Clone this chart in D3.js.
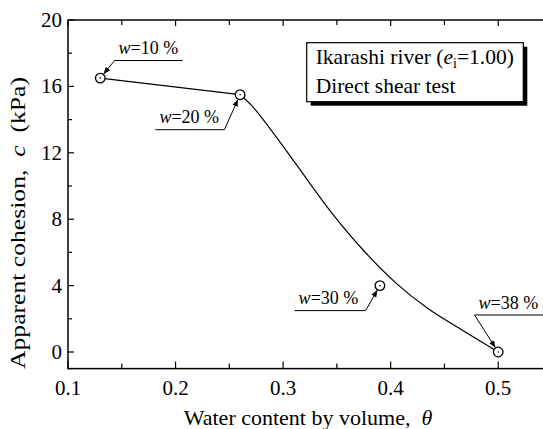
<!DOCTYPE html>
<html>
<head>
<meta charset="utf-8">
<script src="https://cdn.jsdelivr.net/npm/d3@7"></script>
<style>
  html, body { margin: 0; padding: 0; background: #fff; }
  svg text { font-family: "Liberation Serif", "Times New Roman", serif; fill: #000; white-space: pre; }
</style>
</head>
<body>
<svg id="chart" width="543" height="429"></svg>
<script>
// ---- data ----
const thetaPoints = [0.13, 0.26, 0.39, 0.50];
const cohesion    = [16.5, 15.5, 4.0, 0.0];
const wLabels     = ["10", "20", "30", "38"];

// fitted curve: straight part, then smooth decay
const fitThetaA = [0.13, 0.26];
const fitCA     = [16.5, 15.5];
const fitThetaB = [0.26, 0.270, 0.285, 0.310, 0.345, 0.375, 0.405, 0.435, 0.467, 0.500];
const fitCB     = [15.5, 14.9, 13.7, 11.5, 8.4, 6.1, 4.15, 2.6, 1.3, 0.0];

const xTicks = [0.1, 0.2, 0.3, 0.4, 0.5];
const xMinor = [0.15, 0.25, 0.35, 0.45, 0.55];
const yTicks = [0, 4, 8, 12, 16, 20];
const yMinor = [-1, 2, 6, 10, 14, 18];

const legendLine1 = "Ikarashi river (";
const legendLine2 = "Direct shear test";

// ---- layout ----
const svg = d3.select("#chart");
const x = d3.scaleLinear().domain([0.1, 0.55]).range([68, 552]);
const y = d3.scaleLinear().domain([-1, 20]).range([368.6, 20]);

const g = svg.append("g");

// frame
g.append("rect")
  .attr("x", x(0.1)).attr("y", y(20))
  .attr("width", x(0.55) - x(0.1)).attr("height", y(-1) - y(20))
  .attr("fill", "none").attr("stroke", "#000").attr("stroke-width", 1.5);

// ticks (inward)
const tickG = g.append("g").attr("stroke", "#000").attr("stroke-width", 1.2);
xTicks.forEach(v => {
  tickG.append("line").attr("x1", x(v)).attr("x2", x(v)).attr("y1", y(-1)).attr("y2", y(-1) - 7);
  tickG.append("line").attr("x1", x(v)).attr("x2", x(v)).attr("y1", y(20)).attr("y2", y(20) + 6);
});
xMinor.forEach(v => {
  tickG.append("line").attr("x1", x(v)).attr("x2", x(v)).attr("y1", y(-1)).attr("y2", y(-1) - 5);
  tickG.append("line").attr("x1", x(v)).attr("x2", x(v)).attr("y1", y(20)).attr("y2", y(20) + 5);
});
yTicks.forEach(v => {
  tickG.append("line").attr("x1", x(0.1)).attr("x2", x(0.1) + 6).attr("y1", y(v)).attr("y2", y(v));
});
yMinor.forEach(v => {
  tickG.append("line").attr("x1", x(0.1)).attr("x2", x(0.1) + 4).attr("y1", y(v)).attr("y2", y(v));
});

// tick labels
g.selectAll(".xl").data(xTicks).enter().append("text")
  .attr("x", d => x(d)).attr("y", y(-1) + 26)
  .attr("text-anchor", "middle").attr("font-size", 21)
  .text(d => d3.format(".1f")(d));
g.selectAll(".yl").data(yTicks).enter().append("text")
  .attr("x", x(0.1) - 6).attr("y", d => y(d) + 7)
  .attr("text-anchor", "end").attr("font-size", 21)
  .text(d => d);

// axis titles
const xt = g.append("text").attr("x", 308).attr("y", 425)
  .attr("text-anchor", "middle").attr("font-size", 22);
xt.append("tspan").text("Water content by volume,  ");
xt.append("tspan").attr("font-style", "italic").text("θ");

const yt = g.append("text").attr("transform", "translate(25,223) rotate(-90)")
  .attr("text-anchor", "middle").attr("font-size", 22)
  .attr("textLength", 292).attr("lengthAdjust", "spacingAndGlyphs");
yt.append("tspan").text("Apparent cohesion,  ");
yt.append("tspan").attr("font-style", "italic").text("c");
yt.append("tspan").text("  (kPa)");

// fitted curve
const lineA = d3.line().x((d, i) => x(fitThetaA[i])).y(d => y(d));
g.append("path").datum(fitCA).attr("d", lineA)
  .attr("fill", "none").attr("stroke", "#000").attr("stroke-width", 1.2);
const lineB = d3.line().x((d, i) => x(fitThetaB[i])).y(d => y(d)).curve(d3.curveMonotoneX);
g.append("path").datum(fitCB).attr("d", lineB)
  .attr("fill", "none").attr("stroke", "#000").attr("stroke-width", 1.2);

// markers
const pts = thetaPoints.map((t, i) => ({ t, c: cohesion[i], w: wLabels[i] }));
const mk = g.selectAll(".pt").data(pts).enter().append("g");
mk.append("circle").attr("cx", d => x(d.t)).attr("cy", d => y(d.c)).attr("r", 4.8)
  .attr("fill", "#fff").attr("stroke", "#000").attr("stroke-width", 1.3);
mk.append("circle").attr("cx", d => x(d.t)).attr("cy", d => y(d.c)).attr("r", 0.8).attr("fill", "#000");

// annotations with leaders
svg.append("defs").append("marker").attr("id", "arr")
  .attr("viewBox", "0 0 10 10").attr("refX", 10).attr("refY", 5)
  .attr("markerWidth", 7).attr("markerHeight", 7).attr("orient", "auto")
  .attr("markerUnits", "userSpaceOnUse")
  .append("path").attr("d", "M0,1 L10,5 L0,9 Z").attr("fill", "#000");

const annot = [
  { dx: 14.3, dy: -17.6, side: 1, len: 68 },
  { dx: -15.7, dy: 35, side: -1, len: 69 },
  { dx: -14.3, dy: 25, side: -1, len: 71 },
  { dx: -23.7, dy: -37, side: 1, len: 70 }
];
pts.forEach((p, i) => {
  const a = annot[i];
  const px = x(p.t), py = y(p.c);
  const ex = px + a.dx, ey = py + a.dy;
  const ux2 = ex + a.side * a.len;
  const ang = Math.atan2(py - ey, px - ex);
  const tx = px - Math.cos(ang) * 5.2, ty = py - Math.sin(ang) * 5.2;
  g.append("line").attr("x1", ex).attr("y1", ey).attr("x2", ux2).attr("y2", ey)
    .attr("stroke", "#000").attr("stroke-width", 1);
  g.append("line").attr("x1", ex).attr("y1", ey).attr("x2", tx).attr("y2", ty)
    .attr("stroke", "#000").attr("stroke-width", 1).attr("marker-end", "url(#arr)");
  const left = Math.min(ex, ux2);
  const t = g.append("text").attr("x", left + 4).attr("y", ey - 6.5).attr("font-size", 18);
  t.append("tspan").attr("font-style", "italic").text("w");
  t.append("tspan").text("=" + p.w + " %");
});

// legend box
const lb = { x: 306.7, y: 42.7, w: 216.6, h: 59 };
g.append("rect").attr("x", lb.x + 4).attr("y", lb.y + 4).attr("width", lb.w).attr("height", lb.h).attr("fill", "#000");
g.append("rect").attr("x", lb.x).attr("y", lb.y).attr("width", lb.w).attr("height", lb.h)
  .attr("fill", "#fff").attr("stroke", "#000").attr("stroke-width", 1.2);
const l1 = g.append("text").attr("x", lb.x + 9).attr("y", lb.y + 21.5).attr("font-size", 21.5);
l1.append("tspan").text(legendLine1);
l1.append("tspan").attr("font-style", "italic").text("e");
l1.append("tspan").attr("font-size", 14).attr("dy", 4).text("i");
l1.append("tspan").attr("dy", -4).text("=1.00)");
g.append("text").attr("x", lb.x + 9).attr("y", lb.y + 50.5).attr("font-size", 21.5).text(legendLine2);
</script>
</body>
</html>
